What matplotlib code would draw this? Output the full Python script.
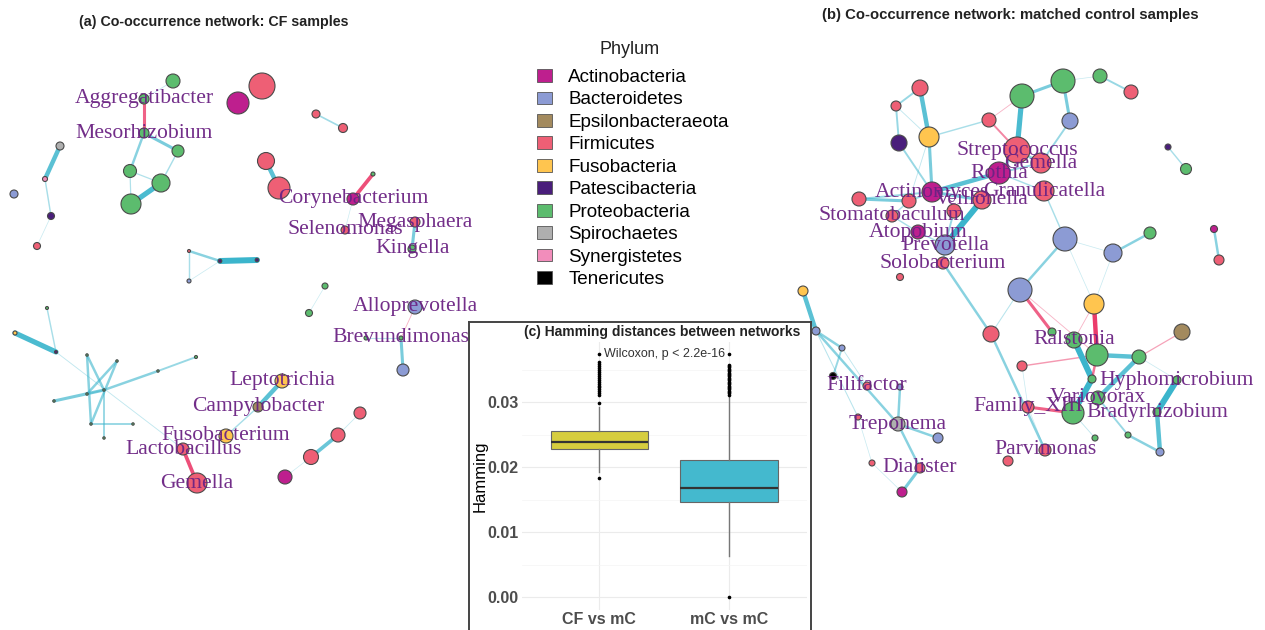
import matplotlib
matplotlib.use("Agg")
import matplotlib.pyplot as plt
from matplotlib.patches import Patch
import numpy as np

# ---------------- data ----------------
phyla = ["Actinobacteria", "Bacteroidetes", "Epsilonbacteraeota", "Firmicutes",
         "Fusobacteria", "Patescibacteria", "Proteobacteria", "Spirochaetes",
         "Synergistetes", "Tenericutes"]
phylum_colors = ["#BE1F8E", "#8C9BD4", "#A38A5E", "#EE5F75", "#FFC54F",
                 "#4A1E7B", "#5CBC6E", "#AFAFAF", "#F28DBB", "#000000"]

# Network (a): CF samples  (layout coordinates, node radius, phylum index, label)
a_x = [173, 144, 144, 178, 130, 161, 131, 238, 262, 316, 343, 266, 279, 353, 373, 415, 412, 345,
       60, 45, 51, 37, 14, 189, 220, 257, 189, 325, 309, 415, 47, 15, 56, 87, 117, 54, 87, 104,
       91, 104, 133, 158, 196, 366, 401, 403, 282, 258, 226, 183, 197, 360, 338, 311, 285]
a_y = [81, 99, 133, 151, 171, 183, 204, 103, 86, 114, 128, 161, 188, 199, 174, 222, 249, 230,
       146, 179, 216, 246, 194, 251, 261, 260, 281, 286, 313, 307, 308, 333, 352, 355, 361, 401, 394, 390,
       424, 438, 424, 371, 357, 338, 338, 370, 381, 407, 436, 449, 483, 413, 435, 457, 477]
a_r = [7, 5, 5, 6, 6.5, 9, 10, 11, 13, 4, 4.5, 8.5, 11, 6, 2, 5, 4, 4,
       4, 2.5, 3.5, 3.5, 4, 1.5, 1.8, 1.8, 2, 3, 3.5, 7, 1.5, 2, 1.5, 1.2, 1.2, 1.2, 1.2, 1.2,
       1.2, 1.2, 1.2, 1.2, 1.5, 2, 2, 6, 7, 5, 7, 6, 10, 6, 7, 7.5, 7]
a_ph = [6, 6, 6, 6, 6, 6, 6, 0, 3, 3, 3, 3, 3, 0, 6, 3, 6, 3,
        7, 8, 5, 3, 1, 3, 5, 5, 1, 6, 6, 1, 6, 4, 5, 6, 6, 6, 6, 6,
        6, 6, 6, 6, 6, 6, 6, 1, 4, 2, 4, 3, 3, 3, 3, 3, 0]
a_labels = {1: "Aggregatibacter", 2: "Mesorhizobium", 13: "Corynebacterium", 15: "Megasphaera",
            16: "Kingella", 17: "Selenomonas", 29: "Alloprevotella", 44: "Brevundimonas",
            46: "Leptotrichia", 47: "Campylobacter", 48: "Fusobacterium", 49: "Lactobacillus",
            50: "Gemella"}
a_edge_from = [1, 1, 2, 2, 4, 4, 5, 3, 9, 11, 13, 13, 15, 18, 19, 20, 23, 24, 23, 26, 27, 30, 31, 32,
               33, 33, 34, 34, 35, 37, 41, 37, 36, 38, 29, 43, 44, 46, 47, 49, 51, 52, 53]
a_edge_to = [2, 0, 3, 4, 5, 6, 6, 5, 10, 12, 14, 17, 16, 19, 20, 21, 24, 25, 26, 24, 28, 32, 32, 49,
             38, 37, 36, 38, 37, 41, 42, 39, 37, 40, 44, 44, 45, 47, 48, 50, 52, 53, 54]
a_edge_w = [-0.6, 0.12, 0.6, 0.5, 0.25, 0.25, 0.9, 0.3, 0.35, 0.8, -0.7, 0.08, 0.6, 0.8, 0.3, 0.1,
            0.5, 1.0, 0.3, 0.1, 0.08, 0.3, 0.9, 0.15,
            0.5, 0.5, 0.5, 0.5, 0.6, 0.5, 0.4, 0.4, 0.3, 0.4, -0.15, 0.2, 0.6, 0.8, 0.3, -0.7,
            0.12, 0.7, 0.08]

# Network (b): matched control samples
b_x = [1022, 1063, 1100, 1131, 920, 896, 929, 899, 989, 1070, 1017, 1041, 999, 1044, 932, 982,
       909, 859, 954, 892, 918, 945, 943, 900, 1065, 1113, 1150, 1020, 1094, 1168, 1186, 1214,
       1219, 803, 816, 842, 833, 867, 900, 898, 858, 938, 872, 920, 902, 991, 1052, 1074, 1097,
       1139, 1182, 1022, 1092, 1177, 1098, 1028, 1073, 1157, 1095, 1128, 1160, 1045, 1008]
b_y = [96, 81, 76, 92, 88, 106, 137, 143, 120, 121, 150, 163, 173, 191, 192, 200,
       201, 199, 211, 216, 232, 245, 263, 277, 239, 253, 233, 290, 304, 147, 169, 229,
       260, 291, 331, 348, 376, 386, 387, 424, 417, 438, 463, 468, 492, 334, 332, 340, 355,
       357, 332, 366, 379, 380, 398, 407, 413, 412, 438, 435, 452, 450, 461]
b_r = [12, 12, 7, 7, 8, 5, 10, 8, 7, 8, 13, 10, 11, 10, 10, 9,
       7, 7, 7, 6, 7, 10, 6, 3.5, 12, 9, 6, 12, 10, 3, 5.5, 3.5,
       5, 5, 4, 3, 3.5, 4, 3, 7, 3, 5, 3, 5, 5, 8, 4, 8, 11,
       7, 8, 5, 4, 4, 7, 6, 11, 4, 3, 3, 4, 6, 5]
b_ph = [6, 6, 6, 3, 3, 3, 4, 5, 3, 1, 3, 3, 0, 3, 0, 3,
        3, 3, 3, 3, 0, 1, 3, 3, 1, 1, 6, 1, 4, 5, 6, 0,
        3, 4, 1, 1, 9, 3, 1, 7, 3, 1, 3, 3, 0, 3, 6, 6, 6,
        6, 2, 3, 6, 6, 6, 3, 6, 6, 6, 6, 1, 3, 3]
b_labels = {10: "Streptococcus", 11: "Gemella", 12: "Rothia", 13: "Granulicatella",
            14: "Actinomyces", 15: "Veillonella", 19: "Stomatobaculum", 20: "Atopobium",
            21: "Prevotella", 22: "Solobacterium", 37: "Filifactor", 39: "Treponema",
            43: "Dialister", 47: "Ralstonia", 53: "Hyphomicrobium", 54: "Variovorax",
            55: "Family_XIII", 57: "Bradyrhizobium", 61: "Parvimonas"}
b_edge_from = [0, 1, 2, 1, 9, 0, 0, 8, 4, 4, 5, 5, 6, 6, 6, 7, 14, 12, 12, 10, 12, 14, 17, 16,
               14, 15, 18, 19, 20, 16, 13, 24, 24, 24, 25, 25, 29, 31, 27, 27, 27, 28, 28, 22,
               21, 45, 51, 47, 52, 48, 49, 49, 49, 53, 57, 60, 59, 55, 48, 51, 56, 55,
               33, 34, 34, 35, 35, 34, 38, 39, 39, 43, 42, 40]
b_edge_to = [1, 2, 3, 9, 11, 10, 8, 10, 5, 6, 7, 6, 8, 14, 16, 14, 12, 10, 11, 11, 13, 17, 16, 14,
             15, 21, 21, 20, 21, 19, 24, 27, 28, 25, 26, 28, 30, 32, 45, 46, 48, 48, 47, 45,
             22, 61, 48, 52, 56, 49, 54, 50, 53, 57, 60, 59, 54, 56, 52, 55, 58, 61,
             34, 35, 39, 36, 37, 40, 39, 41, 43, 44, 44, 42]
b_edge_w = [0.6, 0.1, 0.4, 0.6, 0.4, 0.9, -0.15, -0.4, 0.4, 0.8, 0.4, 0.15, 0.3, 0.6, 0.15, 0.4,
            0.8, 0.5, 0.4, 0.5, 0.3, 0.4, 0.6, 0.4, 0.6, 1.0, 0.4, 0.3, 0.3, 0.3, 0.3, 0.5,
            0.1, 0.1, 0.5, 0.1, 0.3, 0.5, 0.2, -0.6, -0.15, -0.8, -0.15, 0.5,
            0.4, 0.5, -0.3, 1.0, 1.0, 0.8, 0.8, -0.25, 0.1, 1.0, 0.8, 0.5, 0.4, -0.6, -0.5, 0.1,
            0.15, 0.1,
            0.8, 0.5, 0.5, 0.4, 0.15, 0.2, 0.5, 0.5, 0.5, 0.6, 0.1, 0.1]

# Boxplot (c): Hamming distances
box_groups = ["CF vs mC", "mC vs mC"]
box_q1 = [0.0229, 0.0146]
box_med = [0.02385, 0.0169]
box_q3 = [0.0256, 0.0212]
box_whislo = [0.0193, 0.0063]
box_whishi = [0.0293, 0.0310]
cf_fliers = [0.0183, 0.0299, 0.0311, 0.0314, 0.0317, 0.0320, 0.0323, 0.0326, 0.0329, 0.0332,
             0.0335, 0.0338, 0.0341, 0.0344, 0.0347, 0.0350, 0.0353, 0.0356, 0.0359, 0.0362,
             0.0374]
mc_fliers = [0.0000, 0.0312, 0.0314, 0.0316, 0.0318, 0.0320, 0.0322, 0.0324, 0.0326, 0.0328,
             0.0330, 0.0332, 0.0334, 0.0336, 0.0338, 0.0340, 0.0342, 0.0344, 0.0346, 0.0348,
             0.0350, 0.0352, 0.0354, 0.0356, 0.0358, 0.0374]
box_colors = ["#D6CD3E", "#44B9CE"]
ytick_vals = [0.00, 0.01, 0.02, 0.03]

# ---------------- figure ----------------
W, H = 1265, 630
fig = plt.figure(figsize=(W / 100, H / 100), dpi=100)
ax = fig.add_axes([0, 0, 1, 1])
ax.set_xlim(0, W)
ax.set_ylim(H, 0)
ax.axis("off")

POS = "#3BB5CC"
NEG = "#E8174F"
LABEL_COLOR = "#6B2383"


def draw_network(xs, ys, rs, ph, e_from, e_to, e_w, labels):
    xs = np.asarray(xs, float)
    ys = np.asarray(ys, float)
    for i, j, w in zip(e_from, e_to, e_w):
        c = POS if w > 0 else NEG
        m = abs(w)
        ax.plot([xs[i], xs[j]], [ys[i], ys[j]], color=c, lw=0.4 + 3.9 * m ** 1.5,
                alpha=0.2 + 0.8 * m, solid_capstyle="round", zorder=1)
    sizes = (2 * np.asarray(rs, float) * 0.72) ** 2
    cols = [phylum_colors[p] for p in ph]
    ax.scatter(xs, ys, s=sizes, c=cols, edgecolors="#4A4A4A", linewidths=0.8, zorder=2)
    for idx, name in labels.items():
        ax.text(xs[idx], ys[idx], name, ha="center", va="center", fontsize=15.6,
                family="Liberation Serif", color=LABEL_COLOR, alpha=0.95, zorder=3)


draw_network(a_x, a_y, a_r, a_ph, a_edge_from, a_edge_to, a_edge_w, a_labels)
draw_network(b_x, b_y, b_r, b_ph, b_edge_from, b_edge_to, b_edge_w, b_labels)

ax.text(214, 22, "(a) Co-occurrence network: CF samples", ha="center", va="center",
        fontsize=10.3, fontweight="bold", family="Liberation Sans", color="#222222")
ax.text(1010, 15, "(b) Co-occurrence network: matched control samples", ha="center",
        va="center", fontsize=10.7, fontweight="bold", family="Liberation Sans", color="#222222")

# legend
handles = [Patch(facecolor=c, edgecolor="#555555", linewidth=0.6) for c in phylum_colors]
leg = ax.legend(handles, phyla, loc="upper left",
                bbox_to_anchor=(537 / W, 1 - 69 / H), bbox_transform=fig.transFigure,
                frameon=False, borderpad=0, borderaxespad=0, handlelength=0.8,
                handleheight=0.65, handletextpad=0.85, labelspacing=0.29,
                prop={"family": "Liberation Sans", "size": 13.6})
ax.text(630, 49, "Phylum", ha="center", va="center", fontsize=13,
        family="Liberation Sans", color="#222222")

# ---------------- inset (c) ----------------
fx0, fx1, fy0 = 469, 811, 322
frame = fig.add_axes([fx0 / W, -0.01, (fx1 - fx0) / W, (H - fy0) / H + 0.01])
frame.set_facecolor("white")
frame.set_xticks([])
frame.set_yticks([])
for s in ["left", "right", "top"]:
    frame.spines[s].set_color("#444444")
    frame.spines[s].set_linewidth(1.4)
frame.spines["bottom"].set_visible(False)
frame.set_zorder(4)

px0, px1, py0, py1 = 521.5, 807, 342, 609.5
bx = fig.add_axes([px0 / W, (H - py1) / H, (px1 - px0) / W, (py1 - py0) / H])
bx.set_zorder(5)
bx.set_facecolor("white")
stats = []
fl = [cf_fliers, mc_fliers]
for k in range(2):
    stats.append(dict(label=box_groups[k], q1=box_q1[k], med=box_med[k], q3=box_q3[k],
                      whislo=box_whislo[k], whishi=box_whishi[k], fliers=fl[k]))
bp = bx.bxp(stats, positions=[1, 2], widths=0.75, patch_artist=True, showcaps=False,
            boxprops=dict(edgecolor="#666666", linewidth=0.8),
            whiskerprops=dict(color="#777777", linewidth=1.0),
            medianprops=dict(color="#333333", linewidth=1.6),
            flierprops=dict(marker="o", markersize=1.6, markerfacecolor="black",
                            markeredgecolor="black", linestyle="none"))
for patch, c in zip(bp["boxes"], box_colors):
    patch.set_facecolor(c)
bx.set_xlim(0.4, 2.6)
bx.set_ylim(-0.00187, 0.0393)
bx.set_yticks(ytick_vals)
bx.set_yticklabels(["0.00", "0.01", "0.02", "0.03"])
bx.set_yticks([0.005, 0.015, 0.025, 0.035], minor=True)
bx.grid(True, which="major", color="#EBEBEB", lw=0.8)
bx.grid(True, which="minor", axis="y", color="#F4F4F4", lw=0.5)
bx.set_axisbelow(True)
for s in bx.spines.values():
    s.set_visible(False)
bx.tick_params(axis="both", which="both", length=0, pad=2, labelcolor="#4D4D4D")
for t in bx.get_yticklabels() + bx.get_xticklabels():
    t.set_family("Liberation Sans")
    t.set_fontweight("bold")
    t.set_fontsize(11.5)
bx.set_ylabel("Hamming", family="Liberation Sans", fontsize=12, color="black")
bx.yaxis.set_label_coords(-0.12, 0.5)
bx.text(1.5, 0.0374, "Wilcoxon, p < 2.2e-16", ha="center", va="center", fontsize=9,
        family="Liberation Sans", color="#333333", zorder=6)
bx.text(0.494, 1.0385, "(c) Hamming distances between networks", transform=bx.transAxes,
        ha="center", va="center", fontsize=10, fontweight="bold", family="Liberation Sans",
        color="#222222")

fig.savefig("out.png", dpi=100)
